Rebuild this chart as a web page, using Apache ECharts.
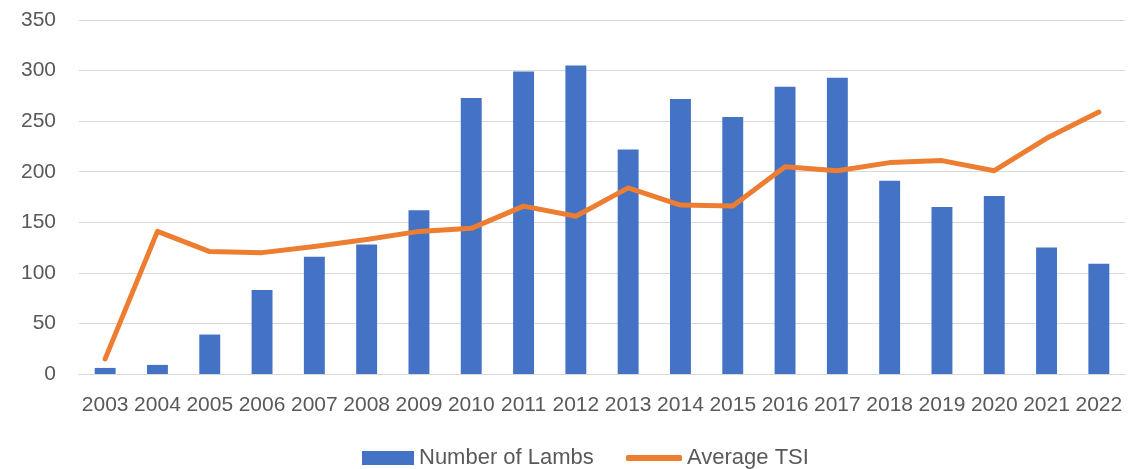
<!DOCTYPE html>
<html>
<head>
<meta charset="utf-8">
<script src="https://cdn.jsdelivr.net/npm/echarts@6/dist/echarts.min.js"></script>
<style>
  html, body { margin: 0; padding: 0; background: #fff; }
  #chart { width: 1138px; height: 469px; }
</style>
</head>
<body>
<div id="chart"></div>
<script>
const years = ['2003', '2004', '2005', '2006', '2007', '2008', '2009', '2010', '2011', '2012',
  '2013', '2014', '2015', '2016', '2017', '2018', '2019', '2020', '2021', '2022'];
const lambs = [6, 9, 39, 83, 116, 128, 162, 273, 299, 305, 222, 272, 254, 284, 293, 191, 165, 176, 125, 109];
const avgTsi = [15, 141, 121, 120, 126, 133, 141, 144, 166, 156, 184, 167, 166, 205, 201, 209, 211, 201, 233, 259];

const chart = echarts.init(document.getElementById('chart'));
const textColor = '#595959';
const font = 'Liberation Sans, Arial, sans-serif';
const legendText = { color: textColor, fontSize: 22, fontFamily: font };

chart.setOption({
  animation: false,
  textStyle: { fontFamily: font },
  grid: { left: 79, right: 13, top: 20, bottom: 95, containLabel: false },
  legend: [
    {
      left: 357,
      top: 442,
      itemWidth: 52,
      itemHeight: 14,
      textStyle: legendText,
      data: [{ name: 'Number of Lambs', icon: 'rect' }]
    },
    {
      left: 621,
      top: 442,
      itemWidth: 56,
      itemHeight: 6,
      textStyle: legendText,
      data: [{ name: 'Average TSI', icon: 'roundRect' }]
    }
  ],
  xAxis: {
    type: 'category',
    data: years,
    axisTick: { show: false },
    axisLine: { lineStyle: { color: '#d9d9d9', width: 1 } },
    axisLabel: { color: textColor, fontSize: 21, margin: 21, interval: 0 }
  },
  yAxis: {
    type: 'value',
    min: 0,
    max: 350,
    interval: 50,
    axisLine: { show: false },
    axisTick: { show: false },
    splitLine: { lineStyle: { color: '#d9d9d9', width: 1 } },
    axisLabel: { color: textColor, fontSize: 21, margin: 23 }
  },
  series: [
    {
      name: 'Number of Lambs',
      type: 'bar',
      data: lambs,
      barWidth: '40%',
      itemStyle: { color: '#4472c4' }
    },
    {
      name: 'Average TSI',
      type: 'line',
      data: avgTsi,
      showSymbol: false,
      symbol: 'none',
      lineStyle: { color: '#ed7d31', width: 5, cap: 'round', join: 'round' },
      itemStyle: { color: '#ed7d31' }
    }
  ]
});
</script>
</body>
</html>
